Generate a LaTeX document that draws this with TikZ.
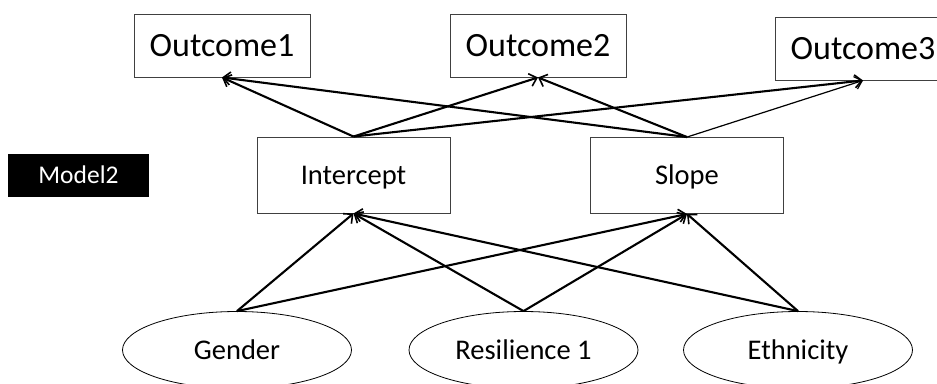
\documentclass[tikz,border=0pt]{standalone}
\usepackage{fontspec}
\setmainfont{Carlito}
\usetikzlibrary{arrows.meta,shapes.geometric}
\tikzset{
  box/.style={draw=black!75,line width=0.9pt,minimum width=176pt,minimum height=63pt,inner sep=0pt,font=\fontsize{34}{36}\selectfont,text height=21.9pt,text depth=0pt},
  midbox/.style={draw=black!75,line width=0.9pt,minimum width=193pt,minimum height=76pt,inner sep=0pt,font=\fontsize{28.5}{30}\selectfont,text height=18.35pt,text depth=0pt},
  oval/.style={draw=black,line width=0.8pt,ellipse,minimum width=229pt,minimum height=77pt,inner sep=0pt,font=\fontsize{28.5}{30}\selectfont,text height=18.35pt,text depth=0pt},
  label/.style={fill=black,text=white,minimum width=141pt,minimum height=43pt,inner sep=0pt,font=\fontsize{25.5}{27}\selectfont,text height=16.4pt,text depth=0pt},
  conn/.style={line width=2.1pt,-{Straight Barb[length=7pt,width=13pt,line width=1.6pt]}},
  thinconn/.style={line width=1.2pt,-{Straight Barb[length=7pt,width=13pt,line width=1.2pt]}}
}
\begin{document}
\begin{tikzpicture}[x=1pt,y=-1pt]
\useasboundingbox (0,0) rectangle (937,383);
\clip (0,0) rectangle (937,383);
\fill[white] (0,0) rectangle (937,383);
\node[box] (o1) at (222,45.5) {Outcome1};
\node[box] (o2) at (538,45.5) {Outcome2};
\node[box] (o3) at (863,48.5) {Outcome3};
\node[label] (m2) at (78.5,175.5) {Model2};
\node[midbox] (ic) at (353.5,175) {Intercept};
\node[midbox] (sl) at (687,175.5) {Slope};
\node[oval] (ge) at (237,350) {Gender};
\node[oval] (re) at (523.5,350) {Resilience 1};
\node[oval] (et) at (798,350) {Ethnicity};
\draw[conn] (ic.north) -- (o1.south);
\draw[conn] (ic.north) -- (o2.south);
\draw[conn] (ic.north) -- (o3.south);
\draw[conn] (sl.north) -- (o1.south);
\draw[conn] (sl.north) -- (o2.south);
\draw[thinconn] (sl.north) -- (o3.south);
\draw[conn] (ge.north) -- (ic.south);
\draw[conn] (ge.north) -- (sl.south);
\draw[conn] (re.north) -- (ic.south);
\draw[conn] (re.north) -- (sl.south);
\draw[conn] (et.north) -- (ic.south);
\draw[conn] (et.north) -- (sl.south);
\end{tikzpicture}
\end{document}
